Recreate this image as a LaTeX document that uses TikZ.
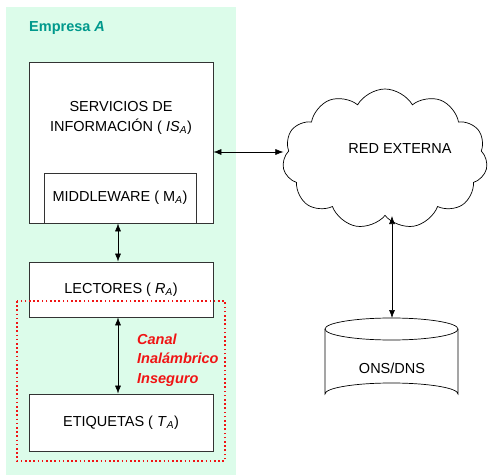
\documentclass[tikz,border=0pt]{standalone}
\usepackage{fontspec}
\setmainfont{Liberation Sans}
\usetikzlibrary{shapes.symbols,arrows.meta}
\definecolor{bgmint}{RGB}{220,252,234}
\definecolor{teal1}{RGB}{0,153,140}
\definecolor{redc}{RGB}{240,20,20}
\tikzset{
  box/.style={draw=black!80,line width=0.8pt,fill=white,rectangle,inner sep=0pt},
  txt/.style={font=\fontsize{14.5}{20}\selectfont,align=center,inner sep=0pt},
  biarrow/.style={{Latex[length=8pt,width=6pt]}-{Latex[length=8pt,width=6pt]},line width=0.6pt,black}
}
\begin{document}
\begin{tikzpicture}[x=1pt,y=-1pt]
\useasboundingbox (0,0) rectangle (490,476);
\fill[bgmint] (6,7) rectangle (236,475);
\node[anchor=west,font=\fontsize{14.5}{17}\selectfont\bfseries,text=teal1,inner sep=0pt] (emp) at (29,28) {Empresa \textit{A}};
% IS box
\node[box,minimum width=184pt,minimum height=161pt] (is) at (121,142.5) {};
\node[txt] (istext) at (121,118) {SERVICIOS DE\\INFORMACIÓN ( \textit{IS}\textsubscript{\textit{A}})};
\node[box,minimum width=152pt,minimum height=50pt,txt] (mw) at (120,198) {MIDDLEWARE ( M\textsubscript{\textit{A}})};
\node[box,minimum width=184pt,minimum height=55pt,txt] (lec) at (121,289.5) {LECTORES ( \textit{R}\textsubscript{\textit{A}})};
\node[box,minimum width=184pt,minimum height=57pt,txt] (eti) at (121,422.5) {ETIQUETAS ( \textit{T}\textsubscript{\textit{A}})};
% red dotted region
\draw[redc,line width=1.6pt,dash pattern=on 1.6pt off 2.6pt] (17,301) rectangle (225,461);
\node[anchor=west,align=left,text=redc,font=\fontsize{14.5}{19.5}\selectfont\bfseries\itshape,inner sep=0pt] (canal) at (137,360) {Canal\\Inalámbrico\\Inseguro};
% cloud
\node[cloud,draw=black,line width=0.7pt,fill=white,cloud puffs=11,cloud puff arc=120,minimum width=205pt,minimum height=140pt,inner sep=0pt] (cloud) at (385,159) {};
\node[txt] (cloudtext) at (400,149) {RED EXTERNA};
% cylinder
\fill[white] (325,329) -- (325,394) arc[start angle=180,end angle=360,x radius=66.5,y radius=11] -- (458,329) arc[start angle=0,end angle=180,x radius=66.5,y radius=11] -- cycle;
\draw[line width=0.7pt] (325,329) -- (325,394) arc[start angle=180,end angle=360,x radius=66.5,y radius=11] -- (458,329);
\draw[line width=0.7pt] (391.5,329) ellipse[x radius=66.5,y radius=11];
\coordinate (dbtop) at (392,318);
\node[txt] (db) at (392,368) {ONS/DNS};
% arrows
\draw[biarrow] (mw.south -| 118,0) -- (lec.north -| 118,0);
\draw[biarrow] (lec.south -| 118,0) -- (eti.north -| 118,0);
\draw[biarrow] (is.east |- 0,152) -- (cloud.west |- 0,152);
\draw[biarrow] (cloud.south -| 392,0) -- (dbtop);
\end{tikzpicture}
\end{document}
